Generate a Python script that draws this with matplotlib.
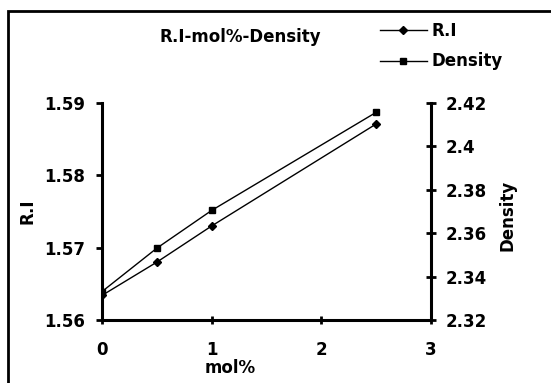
import matplotlib.pyplot as plt
from matplotlib.patches import Rectangle

plt.rcParams['font.family'] = ['DejaVu Sans']
plt.rcParams['font.weight'] = 'bold'

# mol% vs refractive index and density
mol = [0, 0.5, 1, 2.5]
ri = [1.5634, 1.568, 1.573, 1.5871]
density = [2.3331, 2.3531, 2.3705, 2.4157]

W, H = 551, 383
fig = plt.figure(figsize=(W / 100, H / 100), dpi=100)
ax = fig.add_axes([102 / W, 1 - 320 / H, (431 - 102) / W, (320 - 103) / H])
ax2 = ax.twinx()

l1, = ax.plot(mol, ri, color='black', lw=1, marker='D', ms=4, label='R.I')
l2, = ax2.plot(mol, density, color='black', lw=1, marker='s', ms=4.5, label='Density')

ax.set_xlim(0, 3)
ax.set_ylim(1.56, 1.59)
ax2.set_ylim(2.32, 2.42)
ax.set_xticks([0, 1, 2, 3])
ax.set_yticks([1.56, 1.57, 1.58, 1.59])
ax.set_yticklabels(['1.56', '1.57', '1.58', '1.59'])
ax2.set_yticks([2.32, 2.34, 2.36, 2.38, 2.40, 2.42])
ax2.set_yticklabels(['2.32', '2.34', '2.36', '2.38', '2.4', '2.42'])

for a in (ax, ax2):
    for s in a.spines.values():
        s.set_linewidth(2.2)
    a.spines['top'].set_visible(False)
ax.spines['right'].set_visible(False)
ax2.spines['left'].set_visible(False)
ax2.spines['bottom'].set_visible(False)

ax.tick_params(axis='y', direction='out', length=4, width=2, labelsize=12, pad=8)
ax.tick_params(axis='x', direction='inout', length=6, width=2, labelsize=12, pad=12)
ax2.tick_params(axis='y', direction='inout', length=7, width=2, labelsize=12, pad=7)

ax.set_xlabel('mol%', fontsize=12, fontweight='bold', va='center')
ax.xaxis.set_label_coords((230 - 102) / 329, (320 - 368) / 217)
ax.set_ylabel('R.I', fontsize=12, fontweight='bold', va='center')
ax.yaxis.set_label_coords((28 - 102) / 329, 0.5)
ax2.set_ylabel('Density', fontsize=12, fontweight='bold', va='center')
ax2.yaxis.set_label_coords((507 - 102) / 329, 0.48)

fig.text(240 / W, 1 - 37 / H, 'R.I-mol%-Density', fontsize=12, fontweight='bold',
         ha='center', va='center')
fig.legend(handles=[l1, l2], loc='upper left', bbox_to_anchor=(380 / W, 1 - 22 / H),
           frameon=False, fontsize=12, handlelength=2.8, labelspacing=0.75,
           handletextpad=0.3, borderpad=0, borderaxespad=0)

fig.patches.append(Rectangle((8 / W, -0.05), 1.1, 1 - 11 / H + 0.05,
                             transform=fig.transFigure, fill=False,
                             edgecolor='black', lw=2, clip_on=False))

fig.savefig('out.png', dpi=100)
